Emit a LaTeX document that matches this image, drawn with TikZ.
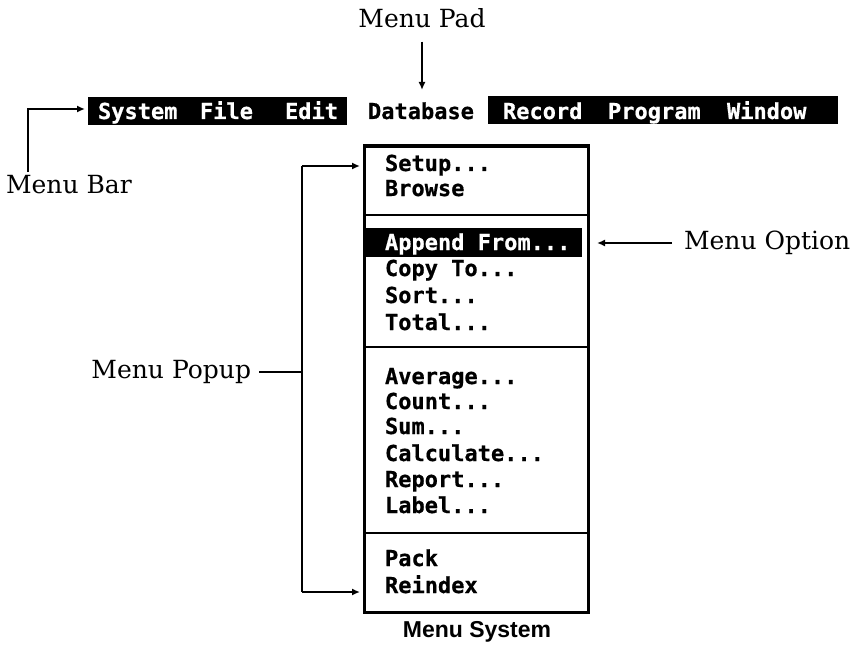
\documentclass[tikz,border=0pt]{standalone}
\usepackage{fontspec}
\setmainfont{DejaVu Serif}
\newfontfamily\scr{DejaVu Sans Mono}[FakeBold=0.6]
\newfontfamily\capfont{Liberation Sans}
\usetikzlibrary{arrows.meta}
\tikzset{
  every node/.style={inner sep=0pt, outer sep=0pt},
  label/.style={font=\fontsize{25}{28}\selectfont},
  menutxt/.style={anchor=base west, font=\scr\bfseries\fontsize{22}{24}\selectfont},
  bartxt/.style={menutxt, text=white},
  barblk/.style={fill=black, anchor=north west},
  wire/.style={line width=2pt},
  arr/.style={wire, -{Latex[length=8pt,width=7pt]}},
  frame/.style={draw, line width=3pt},
  rule/.style={line width=2pt}
}
\begin{document}
\begin{tikzpicture}[x=1pt, y=-1pt]
\useasboundingbox (0,0) rectangle (851,650);

% menu bar
\node[barblk, minimum width=259pt, minimum height=28pt] (barL) at (88,97) {};
\node[barblk, minimum width=350pt, minimum height=28pt] (barR) at (488,96) {};
\node[bartxt] (sys) at (98,119) {System};
\node[bartxt] (file) at (200,119) {File};
\node[bartxt] (edit) at (285,119) {Edit};
\node[menutxt] (db) at (368,119) {Database};
\node[bartxt] (rec) at (503,119) {Record};
\node[bartxt] (prg) at (608,119) {Program};
\node[bartxt] (win) at (727,119) {Window};

% popup frame
\node[frame, anchor=north west, minimum width=224pt, minimum height=466pt] (box) at (364,146) {};
\coordinate (s1) at (0,215);
\coordinate (s2) at (0,347);
\coordinate (s3) at (0,533);
\draw[rule] (box.west |- s1) -- (box.east |- s1);
\draw[rule] (box.west |- s2) -- (box.east |- s2);
\draw[rule] (box.west |- s3) -- (box.east |- s3);

% highlighted option
\node[fill=black, anchor=north west, minimum width=216pt, minimum height=29pt] (hl) at (366,228) {};

% options
\node[menutxt] (o1) at (385,171) {Setup...};
\node[menutxt] (o2) at (385,196) {Browse};
\node[menutxt, text=white] (o3) at (385,250) {Append From...};
\node[menutxt] (o4) at (385,276) {Copy To...};
\node[menutxt] (o5) at (385,303) {Sort...};
\node[menutxt] (o6) at (385,330) {Total...};
\node[menutxt] (o7) at (385,384) {Average...};
\node[menutxt] (o8) at (385,409) {Count...};
\node[menutxt] (o9) at (385,434) {Sum...};
\node[menutxt] (o10) at (385,461) {Calculate...};
\node[menutxt] (o11) at (385,487) {Report...};
\node[menutxt] (o12) at (385,513) {Label...};
\node[menutxt] (o13) at (385,566) {Pack};
\node[menutxt] (o14) at (385,593) {Reindex};

% callout labels
\node[label] (pad) at (422,18) {Menu Pad};
\node[label, anchor=west] (mbar) at (6,185) {Menu Bar};
\node[label, anchor=west] (mopt) at (684,243) {Menu Option};
\node[label, anchor=east] (mpop) at (251,372) {Menu Popup};
\node[font=\capfont\bfseries\fontsize{23}{26}\selectfont] (cap) at (477,632) {Menu System};

% connectors
\coordinate (padtip) at (422,90);
\draw[arr] (pad.south) ++(0,14) -- (padtip);

\coordinate (mbfoot) at (28,172);
\draw[arr] (mbfoot) |- ([xshift=-3pt,yshift=2pt]barL.west);

\draw[arr, shorten <=12pt, shorten >=15pt] (mopt.west) -- (hl.east |- mopt.west);

\coordinate (ptop) at (303,166);
\coordinate (pbot) at (303,592);
\draw[wire] ([xshift=-1pt]ptop) -- ([xshift=-1pt]pbot);
\draw[wire] ([xshift=8pt]mpop.east) -- (mpop.east -| ptop);
\draw[arr] ([xshift=-1pt]ptop) -- ([xshift=-4pt]box.west |- ptop);
\draw[arr] ([xshift=-1pt]pbot) -- ([xshift=-4pt]box.west |- pbot);
\end{tikzpicture}
\end{document}
